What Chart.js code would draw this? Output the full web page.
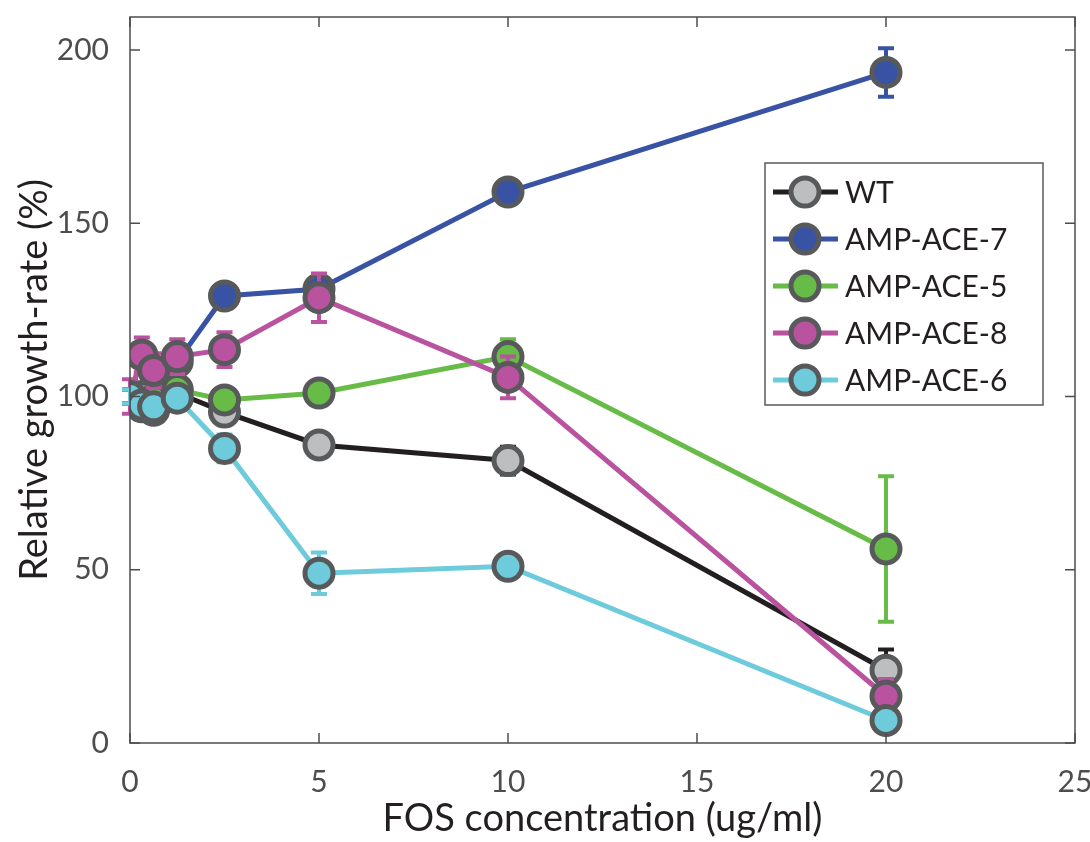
<!DOCTYPE html>
<html>
<head>
<meta charset="utf-8">
<script src="https://cdn.jsdelivr.net/npm/chart.js@4.4.1/dist/chart.umd.min.js"></script>
<style>
  html, body { margin: 0; padding: 0; background: #fff; }
  #wrap { width: 1090px; height: 842px; }
</style>
</head>
<body>
<div id="wrap"><canvas id="growthChart" width="1090" height="842"></canvas></div>
<script>
// FOS concentrations (ug/ml)
const concentrations = [0, 0.3125, 0.625, 1.25, 2.5, 5, 10, 20];
const seriesNames = ['WT', 'AMP-ACE-7', 'AMP-ACE-5', 'AMP-ACE-8', 'AMP-ACE-6'];

// relative growth-rate (%) and error (+/-)
const wtValues    = [100, 98, 97, 101, 95.5, 86, 81.5, 21];
const wtErrors    = [2, 2, 2, 2, 3, 2, 4, 6];
const ace7Values  = [100, 97, 96, 110, 129, 131, 159, 193.5];
const ace7Errors  = [2, 2, 2, 3, 2, 2, 2, 7];
const ace5Values  = [100, 100, 99, 102, 99, 101, 111.5, 56];
const ace5Errors  = [2, 2, 2, 2, 2, 2, 5, 21];
const ace8Values  = [100, 112, 107.5, 111.5, 113.5, 128.5, 105.5, 13.5];
const ace8Errors  = [5, 5, 5, 5, 5, 7, 6, 5];
const ace6Values  = [100, 97.5, 97, 99.5, 85, 49, 51, 6.5];
const ace6Errors  = [2, 2, 2, 2, 4, 6, 2, 2];

const xTicks = [0, 5, 10, 15, 20, 25];
const yTicks = [0, 50, 100, 150, 200];

const lineColors = ['#231f20', '#3953a4', '#66bc46', '#b9539f', '#6dcbdc'];
const fillColors = ['#bcbec0', '#3953a4', '#66bc46', '#b9539f', '#6dcbdc'];
const markerEdge = '#58595b';
const FONT = 'Lato, "Open Sans", sans-serif';

const allValues = [wtValues, ace7Values, ace5Values, ace8Values, ace6Values];
const allErrors = [wtErrors, ace7Errors, ace5Errors, ace8Errors, ace6Errors];

const datasets = seriesNames.map(function(name, i) {
  return {
    label: name,
    data: concentrations.map(function(c, k) { return { x: c, y: allValues[i][k] }; }),
    errors: allErrors[i],
    borderColor: lineColors[i],
    backgroundColor: fillColors[i],
    borderWidth: 5,
    pointRadius: 14,
    pointBorderWidth: 5,
    pointBorderColor: markerEdge,
    pointBackgroundColor: fillColors[i],
    order: 5 - i,
    tension: 0
  };
});

// error bars, drawn under each series' line+markers
const errorBars = {
  id: 'errorBars',
  beforeDatasetDraw(chart, args) {
    const ds = chart.data.datasets[args.index];
    const ctx = chart.ctx;
    const xs = chart.scales.x, ys = chart.scales.y;
    ctx.save();
    ctx.strokeStyle = ds.borderColor;
    ctx.lineWidth = 4;
    ds.data.forEach(function(p, k) {
      const e = ds.errors[k];
      const px = xs.getPixelForValue(p.x);
      const top = ys.getPixelForValue(p.y + e);
      const bot = ys.getPixelForValue(p.y - e);
      ctx.beginPath();
      ctx.moveTo(px, top); ctx.lineTo(px, bot);
      ctx.moveTo(px - 8, top); ctx.lineTo(px + 8, top);
      ctx.moveTo(px - 8, bot); ctx.lineTo(px + 8, bot);
      ctx.stroke();
    });
    ctx.restore();
  }
};

// box with inward ticks, MATLAB style
const boxAxes = {
  id: 'boxAxes',
  afterDraw(chart) {
    const ctx = chart.ctx;
    const a = chart.chartArea;
    const xs = chart.scales.x, ys = chart.scales.y;
    ctx.save();
    ctx.strokeStyle = '#4d4d4f';
    ctx.lineWidth = 1.5;
    ctx.strokeRect(a.left, a.top, a.right - a.left, a.bottom - a.top);
    ctx.beginPath();
    xTicks.forEach(function(t) {
      const px = xs.getPixelForValue(t);
      ctx.moveTo(px, a.bottom); ctx.lineTo(px, a.bottom - 10);
      ctx.moveTo(px, a.top); ctx.lineTo(px, a.top + 10);
    });
    yTicks.forEach(function(t) {
      const py = ys.getPixelForValue(t);
      ctx.moveTo(a.left, py); ctx.lineTo(a.left + 10, py);
      ctx.moveTo(a.right, py); ctx.lineTo(a.right - 10, py);
    });
    ctx.stroke();
    ctx.restore();
  }
};

// legend box inside plot area
const boxLegend = {
  id: 'boxLegend',
  afterDraw(chart) {
    const ctx = chart.ctx;
    const left = 765, top = 163, w = 278, h = 242;
    ctx.save();
    ctx.fillStyle = '#fff';
    ctx.fillRect(left, top, w, h);
    ctx.strokeStyle = '#58595b';
    ctx.lineWidth = 1.5;
    ctx.strokeRect(left, top, w, h);
    chart.data.datasets.forEach(function(ds, i) {
      const y = top + 29 + i * 47;
      ctx.strokeStyle = ds.borderColor;
      ctx.lineWidth = 5;
      ctx.beginPath();
      ctx.moveTo(773, y); ctx.lineTo(838, y);
      ctx.stroke();
      ctx.beginPath();
      ctx.arc(805, y, 14, 0, Math.PI * 2);
      ctx.fillStyle = ds.pointBackgroundColor;
      ctx.fill();
      ctx.lineWidth = 5;
      ctx.strokeStyle = markerEdge;
      ctx.stroke();
      ctx.fillStyle = '#231f20';
      ctx.font = '30px ' + FONT;
      ctx.textBaseline = 'middle';
      ctx.fillText(ds.label, 845, y + 1);
    });
    ctx.restore();
  }
};

new Chart(document.getElementById('growthChart'), {
  type: 'line',
  data: { datasets: datasets },
  plugins: [errorBars, boxAxes, boxLegend],
  options: {
    responsive: false,
    animation: false,
    layout: { autoPadding: false, padding: { top: 17, right: 15, left: 0, bottom: 0 } },
    plugins: { legend: { display: false }, tooltip: { enabled: false } },
    scales: {
      x: {
        type: 'linear',
        min: 0, max: 25,
        afterBuildTicks: function(s) { s.ticks = xTicks.map(function(v) { return { value: v }; }); },
        afterFit: function(s) { s.height = 99; s.paddingLeft = 0; s.paddingRight = 0; },
        grid: { display: false },
        border: { display: false },
        ticks: { color: '#4d4d4f', font: { family: FONT, size: 30 }, padding: 13 },
        title: { display: true, text: 'FOS concentration (ug/ml)', color: '#231f20',
                 font: { family: FONT, size: 38 }, padding: { top: 0, bottom: 0 } }
      },
      y: {
        min: 0, max: 209.5,
        afterBuildTicks: function(s) { s.ticks = yTicks.map(function(v) { return { value: v }; }); },
        afterFit: function(s) { s.width = 130; s.paddingTop = 0; s.paddingBottom = 0; },
        grid: { display: false },
        border: { display: false },
        ticks: { color: '#4d4d4f', font: { family: FONT, size: 30 }, padding: 13 },
        title: { display: true, text: 'Relative growth-rate (%)', color: '#231f20',
                 font: { family: FONT, size: 38 }, padding: { top: 12, bottom: 0 } }
      }
    }
  }
});
</script>
</body>
</html>
